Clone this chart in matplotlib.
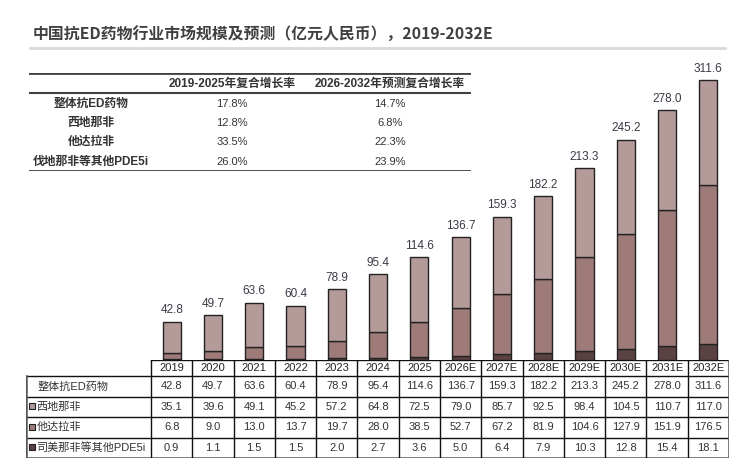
"""China anti-ED drug market size and forecast, stacked bars with data table."""

import matplotlib.pyplot as plt
from matplotlib.lines import Line2D
from matplotlib.patches import Rectangle

plt.rcParams["font.family"] = ["Liberation Sans", "Noto Sans CJK SC", "DejaVu Sans"]

years = ["2019", "2020", "2021", "2022", "2023", "2024", "2025",
         "2026E", "2027E", "2028E", "2029E", "2030E", "2031E", "2032E"]
total = [42.8, 49.7, 63.6, 60.4, 78.9, 95.4, 114.6,
         136.7, 159.3, 182.2, 213.3, 245.2, 278.0, 311.6]
sildenafil = [35.1, 39.6, 49.1, 45.2, 57.2, 64.8, 72.5,
              79.0, 85.7, 92.5, 98.4, 104.5, 110.7, 117.0]
tadalafil = [6.8, 9.0, 13.0, 13.7, 19.7, 28.0, 38.5,
             52.7, 67.2, 81.9, 104.6, 127.9, 151.9, 176.5]
others = [0.9, 1.1, 1.5, 1.5, 2.0, 2.7, 3.6,
          5.0, 6.4, 7.9, 10.3, 12.8, 15.4, 18.1]

row_labels = ["整体抗ED药物", "西地那非", "他达拉非", "司美那非等其他PDE5i"]

cagr_cols = ["2019-2025年复合增长率", "2026-2032年预测复合增长率"]
cagr_rows = ["整体抗ED药物", "西地那非", "他达拉非", "伐地那非等其他PDE5i"]
cagr_hist = ["17.8%", "12.8%", "33.5%", "26.0%"]
cagr_fcst = ["14.7%", "6.8%", "22.3%", "23.9%"]

c_light = "#b59a9a"
c_mid = "#9e7b79"
c_dark = "#5b4242"
txt = "#3a3a46"

W, H = 752, 474
fig = plt.figure(figsize=(W / 100, H / 100), dpi=100)


def box(x0, y0, x1, y1):
    # pixel box (top-left origin) -> figure fraction rect
    return [x0 / W, 1 - y1 / H, (x1 - x0) / W, (y1 - y0) / H]


# title and rule
fig.text(33 / W, 1 - 35 / H, "中国抗ED药物行业市场规模及预测（亿元人民币），2019-2032E",
         fontsize=11.4, fontweight="bold", color="#404040", va="center", ha="left",
         family=["Noto Sans CJK SC", "DejaVu Sans"])
fig.add_artist(Line2D([30 / W, 725 / W], [1 - 48 / H, 1 - 48 / H],
                      color="#d9d9d9", lw=2))

# CAGR inset table
tax = fig.add_axes(box(29, 73, 471, 171))
tax.set_xlim(0, 1)
tax.set_ylim(0, 1)
tax.axis("off")
col_x = [0.14, 0.459, 0.817]
row_y = [0.684, 0.49, 0.296, 0.092]
for cx, lab in zip(col_x[1:], cagr_cols):
    tax.text(cx, 0.888, lab, ha="center", va="center", fontsize=8.5,
             fontweight="bold", color="#333333")
for ry, lab, a, b in zip(row_y, cagr_rows, cagr_hist, cagr_fcst):
    tax.text(col_x[0], ry, lab, ha="center", va="center", fontsize=8.5,
             fontweight="bold", color="#333333")
    tax.text(col_x[1], ry, a, ha="center", va="center", fontsize=8, color="#333333")
    tax.text(col_x[2], ry, b, ha="center", va="center", fontsize=8, color="#333333")
tax.axhline(1, color="#404040", lw=2)
tax.axhline(0.796, color="#404040", lw=1.5)
tax.axhline(0, color="#404040", lw=2)

# stacked bars
n = len(years)
ax = fig.add_axes(box(151, 60, 729, 360))
xs = list(range(n))
ax.bar(xs, others, width=0.44, color=c_dark, edgecolor="#222222", lw=1)
ax.bar(xs, tadalafil, width=0.44, bottom=others, color=c_mid,
       edgecolor="#222222", lw=1)
base2 = [a + b for a, b in zip(others, tadalafil)]
ax.bar(xs, sildenafil, width=0.44, bottom=base2, color=c_light,
       edgecolor="#222222", lw=1)
for x, t in zip(xs, total):
    ax.annotate(f"{t:.1f}", (x, t), xytext=(0, 4), textcoords="offset points",
                ha="center", va="bottom", fontsize=8.5, color=txt)
ax.set_xlim(-0.5, n - 0.5)
ax.set_ylim(0, 334)
ax.axis("off")

# data table under the bars
col_w = (729 - 151) / n
lab_w = (151 - 26) / col_w
bax = fig.add_axes(box(26, 360, 729, 458))
bax.set_xlim(-0.5 - lab_w, n - 0.5)
bax.set_ylim(98, 0)
bax.axis("off")
edges = [0, 16, 36.5, 57, 77.5, 98]
rows = [total, sildenafil, tadalafil, others]
sw_colors = [None, c_light, c_mid, c_dark]

for x, y in zip(xs, years):
    bax.text(x, (edges[0] + edges[1]) / 2, y, ha="center", va="center",
             fontsize=8, color="#222222")
for r, (lab, vals, sc) in enumerate(zip(row_labels, rows, sw_colors)):
    yc = (edges[r + 1] + edges[r + 2]) / 2
    x0 = -0.5 - lab_w
    if sc is None:
        bax.text(x0 + 0.27, yc, lab, ha="left", va="center", fontsize=8,
                 color="#333333")
    else:
        s = 0.14
        bax.add_patch(Rectangle((x0 + 0.08, yc - 3.5), s, 6, facecolor=sc,
                                edgecolor="#222222", lw=0.8))
        bax.text(x0 + 0.25, yc, lab, ha="left", va="center", fontsize=8,
                 color="#333333")
    for x, v in zip(xs, vals):
        bax.text(x, yc, f"{v:.1f}", ha="center", va="center", fontsize=8,
                 color="#333333")

left = -0.5 - lab_w
right = n - 0.5
# horizontal rules
bax.plot([-0.5, right], [edges[0], edges[0]], color="#111111", lw=1)
for e in edges[1:-1]:
    bax.plot([left, right], [e, e], color="#111111", lw=1)
bax.plot([left, right], [edges[-1], edges[-1]], color="#555555", lw=1.8)
# vertical rules
bax.plot([left, left], [edges[1], edges[-1]], color="#555555", lw=1.8)
for i in range(n):
    bax.plot([i - 0.5, i - 0.5], [edges[0], edges[-1]], color="#111111", lw=1)
bax.plot([right, right], [edges[0], edges[-1]], color="#555555", lw=1.8)

fig.savefig("out.png", dpi=100)
